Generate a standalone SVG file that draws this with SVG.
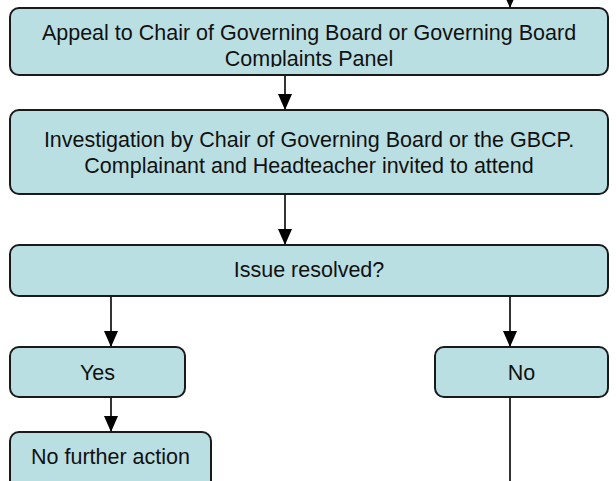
<svg xmlns="http://www.w3.org/2000/svg" width="616" height="481" viewBox="0 0 616 481">
<defs>
<style>
.box{fill:#badfe2;stroke:#1a1a1a;stroke-width:2}
.t{font-family:"Liberation Sans",Arial,sans-serif;font-size:21.5px;fill:#111;text-anchor:middle}
.c{stroke:#000;stroke-width:1.6;fill:none;marker-end:url(#ah)}
.p{stroke:#000;stroke-width:1.6;fill:none}
</style>
<marker id="ah" markerUnits="userSpaceOnUse" markerWidth="16" markerHeight="16" viewBox="0 0 16 14" refX="16" refY="7" orient="auto">
<path d="M0,0 L16,7 L0,14 Z" fill="#000"/>
</marker>
<clipPath id="clip1"><rect x="10" y="8" width="598" height="59"/></clipPath>
</defs>
<rect width="616" height="481" fill="#fff"/>
<g id="connectors">
<path class="c" d="M510,-20 L510,8"/>
<path class="c" d="M285,75 L285,110"/>
<path class="c" d="M285,194 L285,245"/>
<path class="c" d="M111,296 L111,347"/>
<path class="c" d="M510,296 L510,347"/>
<path class="c" d="M111,397 L111,432"/>
<path class="p" d="M510,397 L510,481"/>
</g>
<g id="appeal">
<rect class="box" x="10" y="8" width="598" height="67" rx="9"/>
<g clip-path="url(#clip1)">
<text class="t" x="309" y="40">Appeal to Chair of Governing Board or Governing Board</text>
<text class="t" x="309" y="66">Complaints Panel</text>
</g>
</g>
<g id="investigation">
<rect class="box" x="10" y="110" width="598" height="84" rx="9"/>
<text class="t" x="309" y="147">Investigation by Chair of Governing Board or the GBCP.</text>
<text class="t" x="309" y="173">Complainant and Headteacher invited to attend</text>
</g>
<g id="resolved">
<rect class="box" x="10" y="245" width="598" height="51" rx="9"/>
<text class="t" x="309" y="277">Issue resolved?</text>
</g>
<g id="yes">
<rect class="box" x="10" y="347" width="175" height="50" rx="9"/>
<text class="t" x="97.5" y="380">Yes</text>
</g>
<g id="no">
<rect class="box" x="435" y="347" width="173" height="50" rx="9"/>
<text class="t" x="521.5" y="380">No</text>
</g>
<g id="nfa">
<rect class="box" x="10" y="432" width="201" height="70" rx="9"/>
<text class="t" x="110.5" y="464">No further action</text>
</g>
</svg>
